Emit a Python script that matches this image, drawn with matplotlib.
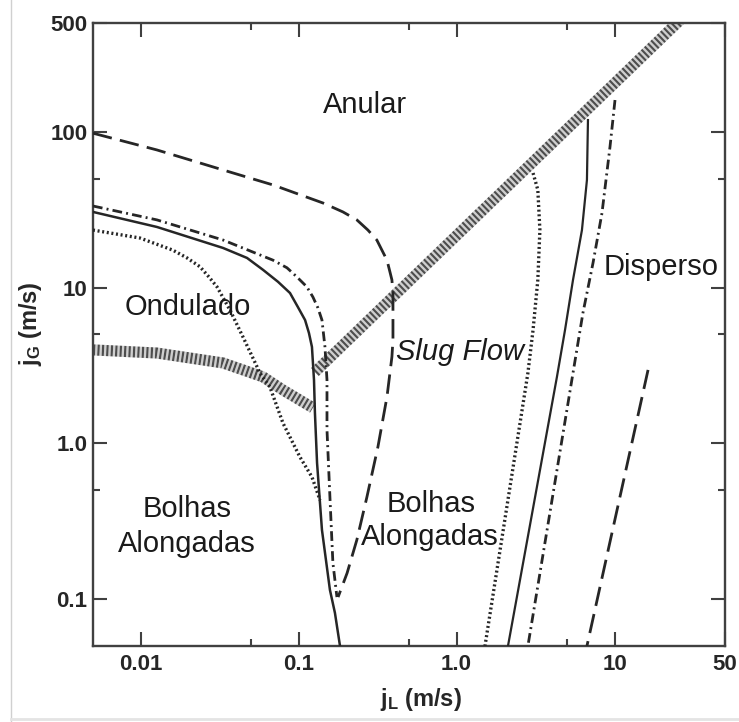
import matplotlib
matplotlib.use('Agg')
import matplotlib.pyplot as plt
from matplotlib.ticker import FixedLocator, FixedFormatter, NullFormatter
from matplotlib.lines import Line2D

plt.rcParams['font.family'] = ['Liberation Sans', 'DejaVu Sans']
plt.rcParams['mathtext.fontset'] = 'custom'
plt.rcParams['mathtext.rm'] = 'Liberation Sans'
plt.rcParams['mathtext.bf'] = 'Liberation Sans:bold'
plt.rcParams['mathtext.it'] = 'Liberation Sans:italic'

# transition boundaries (jL, jG in m/s)
dashed_top_jl = [0.005, 0.0127, 0.0333, 0.0689, 0.143, 0.191, 0.234, 0.275, 0.313, 0.342,
                 0.363, 0.379, 0.390, 0.396, 0.396, 0.396, 0.390, 0.363, 0.318, 0.271,
                 0.234, 0.203, 0.178]
dashed_top_jg = [98, 76.5, 56.9, 45.6, 34.9, 30.6, 27.2, 23.4, 20.2, 16.9,
                 15.0, 12.6, 11.2, 9.23, 6.19, 4.61, 3.59, 1.99, 0.948, 0.453,
                 0.240, 0.147, 0.103]

dashdot_left_jl = [0.005, 0.0127, 0.0333, 0.0689, 0.0845, 0.0977, 0.113, 0.1233, 0.1327,
                   0.1407, 0.147, 0.1514, 0.1514, 0.158, 0.165, 0.175]
dashdot_left_jg = [33.4, 27.2, 20.2, 15.0, 13.4, 11.7, 10.1, 8.7, 7.40,
                   6.19, 4.16, 2.55, 1.22, 0.453, 0.171, 0.103]

solid_left_jl = [0.005, 0.0127, 0.0333, 0.0472, 0.0596, 0.0741, 0.0883, 0.0990, 0.110,
                 0.1164, 0.1216, 0.1253, 0.127, 0.131, 0.1407, 0.158, 0.170, 0.183]
solid_left_jg = [30.6, 24.5, 17.96, 15.5, 13.0, 10.9, 9.23, 7.51, 6.19,
                 5.11, 4.16, 2.55, 1.57, 0.748, 0.278, 0.1146, 0.0815, 0.05]

dotted_left_jl = [0.005, 0.00992, 0.0160, 0.0197, 0.0238, 0.0271, 0.0305, 0.0368, 0.0445,
                  0.0570, 0.0659, 0.0797, 0.102, 0.1216, 0.1368]
dotted_left_jg = [23.4, 20.8, 17.4, 15.5, 13.6, 11.7, 10.1, 7.18, 4.82,
                  2.83, 2.30, 1.35, 0.818, 0.608, 0.432]

band_low_jl = [0.005, 0.0127, 0.0333, 0.0596, 0.0797, 0.1233]
band_low_jg = [3.98, 3.80, 3.28, 2.67, 2.20, 1.69]

band_diag_jl = [0.127, 30]
band_diag_jg = [2.87, 600]

dotted_right_jl = [3.05, 3.27, 3.37, 3.27, 3.05, 2.83, 1.514]
dotted_right_jg = [54.4, 42.4, 23.4, 11.2, 5.34, 2.83, 0.05]

solid_right_jl = [6.79, 6.69, 6.22, 5.46, 4.86, 4.32, 2.117]
solid_right_jg = [119, 49.1, 23.4, 11.2, 5.34, 2.67, 0.05]

dashdot_right_jl = [10.07, 9.36, 8.33, 7.31, 6.31, 5.46, 2.83]
dashdot_right_jg = [160, 80, 30.1, 14.4, 6.87, 2.83, 0.05]

dashed_right_jl = [16.3, 6.69]
dashed_right_jg = [2.96, 0.05]

x_major = [0.01, 0.1, 1, 10, 50]
x_major_labels = ['0.01', '0.1', '1.0', '10', '50']
x_minor = [0.05, 0.5, 5]
y_major = [0.1, 1, 10, 100, 500]
y_major_labels = ['0.1', '1.0', '10', '100', '500']
y_minor = [0.5, 5, 50]

fig = plt.figure(figsize=(7.39, 7.22), dpi=100)
ax = fig.add_axes([0.1258, 0.1053, 0.8552, 0.8629])
ax.set_xscale('log')
ax.set_yscale('log')
ax.set_xlim(0.005, 50)
ax.set_ylim(0.05, 500)

ink = '#262626'
band_kw = dict(color='#4d4d4d', gapcolor='#cfcfcf', lw=8, linestyle=(0, (0.2, 0.2)),
               solid_capstyle='butt', dash_capstyle='butt', zorder=2)
ax.plot(band_low_jl, band_low_jg, **band_kw)
ax.plot(band_diag_jl, band_diag_jg, **band_kw)

dashed = (0, (7, 3))
dashdot = (0, (3.5, 1.5, 0.7, 1.5))
dotted = (0, (0.6, 0.8))
ax.plot(dashed_top_jl, dashed_top_jg, color=ink, lw=2, linestyle=dashed, zorder=3)
ax.plot(dashed_right_jl, dashed_right_jg, color=ink, lw=2, linestyle=dashed, zorder=3)
ax.plot(dashdot_left_jl, dashdot_left_jg, color=ink, lw=2, linestyle=dashdot, zorder=3)
ax.plot(dashdot_right_jl, dashdot_right_jg, color=ink, lw=2, linestyle=dashdot, zorder=3)
ax.plot(solid_left_jl, solid_left_jg, color=ink, lw=1.8, zorder=3)
ax.plot(solid_right_jl, solid_right_jg, color=ink, lw=1.6, zorder=3)
ax.plot(dotted_left_jl, dotted_left_jg, color=ink, lw=2.4, linestyle=dotted,
        dash_capstyle='butt', zorder=3)
ax.plot(dotted_right_jl, dotted_right_jg, color=ink, lw=2.4, linestyle=dotted,
        dash_capstyle='butt', zorder=3)

# region names
txt = dict(transform=ax.transAxes, fontsize=21, color='#1a1a1a', ha='center', va='baseline')
ax.text(0.430, 0.8555, 'Anular', **txt)
ax.text(0.150, 0.531, 'Ondulado', **txt)
ax.text(0.899, 0.596, 'Disperso', **txt)
ax.text(0.581, 0.459, 'Slug Flow', style='italic', **txt)
ax.text(0.149, 0.207, 'Bolhas', **txt)
ax.text(0.149, 0.151, 'Alongadas', **txt)
ax.text(0.535, 0.215, 'Bolhas', **txt)
ax.text(0.533, 0.162, 'Alongadas', **txt)

ax.xaxis.set_major_locator(FixedLocator(x_major))
ax.xaxis.set_major_formatter(FixedFormatter(x_major_labels))
ax.xaxis.set_minor_locator(FixedLocator(x_minor))
ax.xaxis.set_minor_formatter(NullFormatter())
ax.yaxis.set_major_locator(FixedLocator(y_major))
ax.yaxis.set_major_formatter(FixedFormatter(y_major_labels))
ax.yaxis.set_minor_locator(FixedLocator(y_minor))
ax.yaxis.set_minor_formatter(NullFormatter())

for s in ax.spines.values():
    s.set_color('#404040')
    s.set_linewidth(1.7)
ax.tick_params(which='both', direction='in', top=True, right=True, color='#404040', width=1.5)
ax.tick_params(which='major', length=10, labelsize=16, labelcolor='#262626')
ax.tick_params(which='minor', length=5)
ax.tick_params(axis='x', which='major', pad=6)
ax.tick_params(axis='y', which='major', pad=4)
for lab in ax.get_xticklabels() + ax.get_yticklabels():
    lab.set_fontweight('bold')

ax.set_xlabel(r'$\mathbf{j}_\mathbf{L}$ (m/s)', fontsize=17, fontweight='bold', color='#262626')
ax.set_ylabel(r'$\mathbf{j}_\mathbf{G}$ (m/s)', fontsize=17, fontweight='bold', color='#262626')
ax.xaxis.set_label_coords(0.519, -0.064)
ax.yaxis.set_label_coords(-0.078, 0.518)

# faint border of the scanned page
fig.add_artist(Line2D([11 / 739, 11 / 739], [0, 1], transform=fig.transFigure, color='#d0d0d0', lw=1))
fig.add_artist(Line2D([11 / 739, 1], [3 / 722, 3 / 722], transform=fig.transFigure, color='#e4e4e4', lw=2))

fig.savefig('out.png', dpi=100)
